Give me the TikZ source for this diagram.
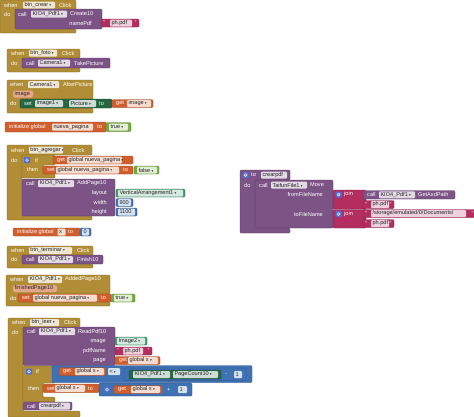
\documentclass[tikz,border=0pt]{standalone}
\usepackage{fontspec}
\setmainfont{Liberation Sans}
\newfontfamily\symf{DejaVu Sans}
\definecolor{ctrl}{RGB}{177,142,53}
\definecolor{proc}{RGB}{124,83,133}
\definecolor{var}{RGB}{208,95,45}
\definecolor{logic}{RGB}{119,171,65}
\definecolor{math}{RGB}{63,113,181}
\definecolor{txt}{RGB}{179,45,94}
\definecolor{cset}{RGB}{38,102,67}
\definecolor{cobj}{RGB}{67,153,112}
\definecolor{gearc}{RGB}{80,110,215}
\newcommand\fs{\fontsize{5.6}{6}\selectfont}
\newcommand\ddn{\hspace{1.2pt}{\symf\fontsize{3.5}{4}\selectfont ▾}}
\newcounter{nc}
\newcommand\wl[3]{\stepcounter{nc}\node[lbl] (n\arabic{nc}) at (#1,#2) {#3};}
\newcommand\wrl[3]{\stepcounter{nc}\node[lbl,anchor=east] (n\arabic{nc}) at (#1,#2) {#3};}
\newcommand\fld[5]{\fill[#1!22!white,rounded corners=1pt] (#2,#4-3.5) rectangle (#3,#4+3.5);
  \stepcounter{nc}\node[ftxt] (n\arabic{nc}) at (#2+1.3,#4) {#5};}
\newcommand\blk[5]{\filldraw[fill=#1,draw=#1!70!black,line width=0.25pt,rounded corners=1pt] (#2,#3) rectangle (#4,#5);}
\newcommand\cblk[8]{\filldraw[fill=#1,draw=#1!70!black,line width=0.25pt,rounded corners=1pt]
  (#2,#3) -- (#4,#3) -- (#4,#6) -- (#7,#6) -- (#7,#8) -- (#4,#8) -- (#4,#5) -- (#2,#5) -- cycle;}
\newcommand\txtb[6]{\blk{txt}{#1}{#3-4}{#2}{#3+4}\wl{#1+2.2}{#3}{"}\wl{#2-4.5}{#3}{"}\fld{txt}{#4}{#5}{#3}{#6}}
\newcommand\gear[2]{\fill[gearc,rounded corners=0.8pt] (#1-3,#2-3) rectangle (#1+3,#2+3);
  \draw[white,line width=0.5pt] (#1,#2) circle (1.4pt);}
\newcommand\prm[5]{\fill[var!55!white,rounded corners=1.5pt] (#1,#2) rectangle (#3,#4);
  \stepcounter{nc}\node[ftxt] (n\arabic{nc}) at (#1+1.5,{(#2+#4)/2}) {#5};}
\begin{document}
\begin{tikzpicture}[x=1pt,y=-1pt,
  lbl/.style={anchor=west,inner sep=0pt,text=white,font=\fs},
  ftxt/.style={anchor=west,inner sep=0pt,text=black!85,font=\fs}]
\useasboundingbox (0,0) rectangle (474,416);
% --- btn_crear.Click
\cblk{ctrl}{0}{0}{76}{33}{10}{15}{29}
\wl{4}{5}{when}\fld{ctrl}{23}{55}{5}{btn\_crear\ddn}\wl{59}{5}{Click}
\wl{4}{14}{do}
\blk{proc}{15}{9}{102}{29}
\wl{18}{14}{call}\fld{proc}{31}{67}{14}{KIO4\_Pdf1\ddn}\wl{70}{14}{Create10}
\wrl{92}{23}{namePdf}
\txtb{101}{139}{23}{110}{132}{ph.pdf}
% --- btn_foto.Click
\cblk{ctrl}{7}{49}{80}{72}{58}{22}{68}
\wl{11}{53}{when}\fld{ctrl}{29}{57}{53}{btn\_foto\ddn}\wl{62}{53}{Click}
\wl{11}{63}{do}
\blk{proc}{22}{58}{110}{68}
\wl{26}{63}{call}\fld{proc}{38}{70}{63}{Camera1\ddn}\wl{74}{63}{TakePicture}
% --- Camera1.AfterPicture
\cblk{ctrl}{7}{80}{93}{113}{99}{20}{108}
\wl{10}{84.5}{when}\fld{ctrl}{28}{59}{84.5}{Camera1\ddn}\wl{63}{84.5}{AfterPicture}
\prm{13}{90.5}{33}{97.5}{image}
\wl{10}{103.5}{do}
\blk{cset}{20}{99}{112}{108}
\wl{24}{103.5}{set}\fld{cset}{35}{63}{103.5}{Image1\ddn}\wl{65.3}{103.5}{.}\fld{cset}{69}{96}{103.5}{Picture\ddn}\wl{99}{103.5}{to}
\blk{var}{112}{99.5}{153}{107.5}
\wl{116}{103.5}{get}\fld{var}{127}{151}{103.5}{image\ddn}
% --- initialize global nueva_pagina
\blk{var}{5}{122}{106}{132}
\wl{9}{127}{initialize global}\fld{var}{52}{93}{127}{nueva\_pagina}\wl{97}{127}{to}
\blk{logic}{106}{122.5}{131}{131.5}\fld{logic}{109}{128}{127}{true\ddn}
% --- btn_agregar.Click
\cblk{ctrl}{7}{145}{92}{220}{155}{22}{216}
\wl{11}{150}{when}\fld{ctrl}{29}{63}{150}{btn\_agregar\ddn}\wl{72}{150}{Click}
\wl{11}{160}{do}
\cblk{ctrl}{22}{155}{55}{178}{165}{43}{174}
\gear{27}{160}\wl{35}{160}{if}\wl{27}{169.5}{then}
\blk{var}{53}{156}{133}{164}\wl{57}{160}{get}\fld{var}{67}{122}{160}{global nueva\_pagina\ddn}
\blk{var}{43}{166}{133}{174}\wl{47}{170}{set}\fld{var}{56}{119}{170}{global nueva\_pagina\ddn}\wl{123}{170}{to}
\blk{logic}{134}{166}{159}{174}\fld{logic}{137}{157}{170}{false\ddn}
\blk{proc}{22}{179}{115}{216}
\wl{26}{183.5}{call}\fld{proc}{38}{74}{183.5}{KIO4\_Pdf1\ddn}\wl{77}{183.5}{AddPage10}
\wrl{107}{193}{layout}\wrl{107}{202.5}{width}\wrl{107}{212}{height}
\blk{cobj}{116}{189}{185}{197}\fld{cobj}{118}{183}{193}{VerticalArrangement1\ddn}
\blk{math}{116}{198.5}{133}{206.5}\fld{math}{118}{131}{202.5}{900}
\blk{math}{116}{208}{137}{216}\fld{math}{118}{135}{212}{1100}
% --- initialize global x
\blk{var}{13}{228}{80}{236}
\wl{17}{232}{initialize global}\fld{var}{57.5}{65.5}{232}{x}\wl{68}{232}{to}
\blk{math}{80}{228}{91}{236}\fld{math}{82}{89}{232}{0}
% --- btn_terminar.Click
\cblk{ctrl}{7}{246}{93}{268}{255}{22}{264}
\wl{11}{250.5}{when}\fld{ctrl}{29}{72}{250.5}{btn\_terminar\ddn}\wl{77}{250.5}{Click}
\wl{11}{259.5}{do}
\blk{proc}{22}{255}{103}{264}
\wl{26}{259.5}{call}\fld{proc}{38}{73}{259.5}{KIO4\_Pdf1\ddn}\wl{77}{259.5}{Finish10}
% --- KIO4_Pdf1.AddedPage10
\cblk{ctrl}{6}{275}{110}{306}{294}{18}{302}
\wl{10}{279.5}{when}\fld{ctrl}{28}{62}{279.5}{KIO4\_Pdf1\ddn}\wl{65}{279.5}{AddedPage10}
\prm{13}{285}{57}{292}{finishedPage10}
\wl{10}{298}{do}
\blk{var}{18}{294}{111}{302}\wl{22}{298}{set}\fld{var}{33}{97}{298}{global nueva\_pagina\ddn}\wl{101}{298}{to}
\blk{logic}{111}{294}{135}{302}\fld{logic}{114}{132}{298}{true\ddn}
% --- btn_leer.Click
\cblk{ctrl}{8}{318}{80}{417}{327}{23}{411}
\wl{12}{322.5}{when}\fld{ctrl}{30}{59}{322.5}{btn\_leer\ddn}\wl{64}{322.5}{Click}
\wl{12}{332}{do}
\blk{proc}{23}{327}{115}{365.5}
\wl{27}{331.5}{call}\fld{proc}{39}{75}{331.5}{KIO4\_Pdf1\ddn}\wl{78}{331.5}{ReadPdf10}
\wrl{106}{341}{image}\wrl{106}{351}{pdfName}\wrl{106}{360.5}{page}
\blk{cobj}{115}{337}{147}{345}\fld{cobj}{117}{145}{341}{Image2\ddn}
\txtb{115}{152}{351}{123}{143}{ph.pdf}
\blk{var}{115}{356.5}{160}{364.5}\wl{119}{360.5}{get}\fld{var}{128}{158}{360.5}{global x\ddn}
\cblk{ctrl}{23}{366}{55}{402}{383}{43}{397}
\gear{29}{371.5}\wl{36}{371.5}{if}\wl{28}{388.5}{then}
\blk{math}{52}{365.5}{252}{382.5}
\blk{var}{59}{367.5}{106}{375.5}\wl{63}{371.5}{get}\fld{var}{75}{104}{371.5}{global x\ddn}
\fld{math}{108}{120}{371.5}{<\ddn}
\blk{math}{124}{368}{246}{380.5}
\blk{cset}{129}{370}{221}{379}\fld{cset}{133}{170}{374.5}{KIO4\_Pdf1\ddn}\fld{cset}{173}{218}{374.5}{PageCount10\ddn}
\wl{225}{374.5}{-}
\fld{math}{234}{242}{374.5}{1}
\blk{var}{43}{384}{99}{392.5}\wl{47}{388.3}{set}\fld{var}{55}{85}{388.3}{global x\ddn}\wl{88}{388.3}{to}
\blk{math}{99}{383}{192}{396}
\fill[gearc] (107,389.5) circle (3pt);\draw[white,line width=0.5pt] (107,389.5) circle (1.4pt);
\blk{var}{114}{385.5}{162}{393.5}\wl{118}{389.5}{get}\fld{var}{131}{160}{389.5}{global x\ddn}
\wl{167}{389.5}{+}
\fld{math}{178}{187}{389.5}{1}
\blk{proc}{23}{402}{72}{410}\wl{27}{406}{call}\fld{proc}{39}{70}{406}{crearpdf\ddn}
% --- to crearpdf
\cblk{proc}{240}{170}{290}{233}{180}{255}{228}
\gear{245.5}{175}\wl{251}{175}{to}\fld{proc}{261}{287}{175}{crearpdf}
\wl{244}{185}{do}
\blk{proc}{255}{180}{333}{228}
\wl{259}{185}{call}\fld{proc}{271}{307}{185}{TaifunFile1\ddn}\wl{310}{185}{Move}
\wrl{323}{194.5}{fromFileName}\wrl{323}{214}{toFileName}
\blk{txt}{333}{190}{366}{209}\gear{338.5}{194.5}\wl{344}{194.5}{join}
\blk{proc}{363}{190.5}{455}{199}\wl{367}{194.8}{call}\fld{proc}{379}{415}{194.8}{KIO4\_Pdf1\ddn}\wl{418}{194.8}{GetAsdPath}
\txtb{363}{394}{204.5}{371}{389}{ph.pdf}
\blk{txt}{333}{209.5}{366}{228}\gear{338.5}{214}\wl{344}{214}{join}
\txtb{363}{476}{213.5}{371}{466}{/storage/emulated/0/Documents/}
\txtb{363}{394}{223.5}{371}{389}{ph.pdf}
\end{tikzpicture}
\end{document}
